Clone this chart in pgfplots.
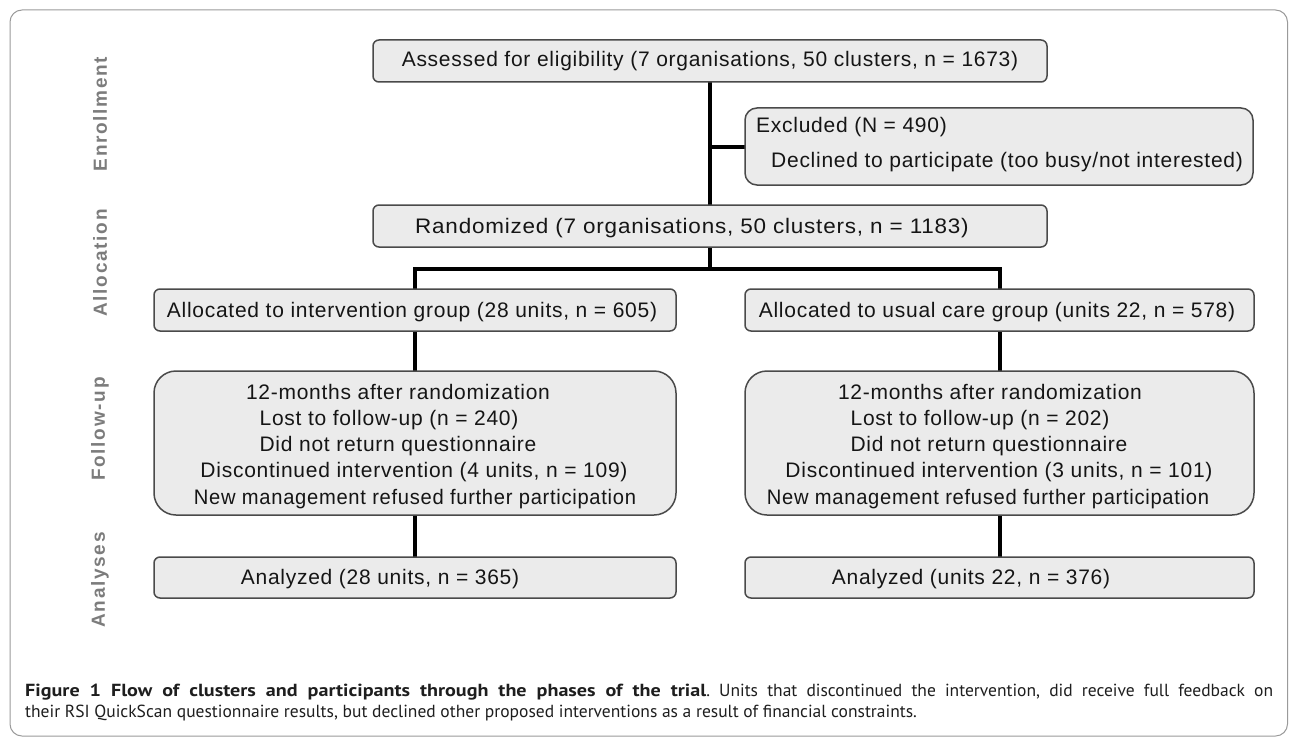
\documentclass[border=0pt]{standalone}
\usepackage{fontspec}
\setmainfont{Liberation Sans}
\newfontfamily\boxfont{Liberation Sans}[LetterSpace=3.5]
\newfontfamily\phasefont{Liberation Sans Bold}[LetterSpace=9]
\newfontfamily\capfont{PT Sans}
\newfontfamily\capbold{PT Sans Bold}[FakeStretch=1.15]
\usepackage{pgfplots}
\pgfplotsset{compat=1.18}
\frenchspacing
\definecolor{boxfill}{HTML}{EBEBEB}
\definecolor{boxdraw}{HTML}{4A4A4A}
\definecolor{phase}{HTML}{7C7C7C}
\definecolor{framec}{HTML}{9A9A9A}
\definecolor{txt}{HTML}{151515}
\definecolor{capt}{HTML}{1E1E1E}
\tikzset{
  bt/.style={anchor=base,inner sep=0pt,font=\boxfont\fontsize{21bp}{24bp}\selectfont,text=txt},
  ph/.style={rotate=90,inner sep=0pt,font=\phasefont\fontsize{19bp}{20bp}\selectfont,text=phase},
  cp/.style={anchor=base west,inner sep=0pt,font=\capfont\fontsize{17.5bp}{21bp}\selectfont\frenchspacing,text=capt},
}
\begin{document}
\begin{tikzpicture}
\begin{axis}[width=1289bp,height=737bp,scale only axis,
  xmin=0,xmax=1289,ymin=0,ymax=737,y dir=reverse,
  axis lines=none,ticks=none,clip=false]
\path (axis cs:0,0) rectangle (axis cs:1289,737);
% outer frame
\addplot[draw=framec,line width=1bp,rounded corners=12bp] coordinates {(600,10) (1287.5,10) (1287.5,736) (10,736) (10,10)} -- cycle;
% connectors
\addplot[black,line width=4.5bp] coordinates {(710,82) (710,205)};
\addplot[black,line width=4.5bp] coordinates {(710,147) (745,147)};
\addplot[black,line width=4.5bp] coordinates {(710,247) (710,269)};
\addplot[black,line width=4.5bp,line join=miter] coordinates {(415,289) (415,269) (1000,269) (1000,289)};
\addplot[black,line width=4bp] coordinates {(415,331) (415,371)};
\addplot[black,line width=4bp] coordinates {(1000,331) (1000,371)};
\addplot[black,line width=4bp] coordinates {(415,515) (415,557)};
\addplot[black,line width=4bp] coordinates {(1000,515) (1000,557)};
% boxes
\addplot[fill=boxfill,draw=boxdraw,line width=1.5bp,rounded corners=6bp] coordinates {(710,40) (1047,40) (1047,82) (373,82) (373,40)} -- cycle;
\addplot[fill=boxfill,draw=boxdraw,line width=1.5bp,rounded corners=12bp] coordinates {(1000,108) (1253,108) (1253,185) (745,185) (745,108)} -- cycle;
\addplot[fill=boxfill,draw=boxdraw,line width=1.5bp,rounded corners=6bp] coordinates {(710,205) (1047,205) (1047,247) (373,247) (373,205)} -- cycle;
\addplot[fill=boxfill,draw=boxdraw,line width=1.5bp,rounded corners=6bp] coordinates {(415,289) (676,289) (676,331) (154,331) (154,289)} -- cycle;
\addplot[fill=boxfill,draw=boxdraw,line width=1.5bp,rounded corners=6bp] coordinates {(1000,289) (1254,289) (1254,331) (745,331) (745,289)} -- cycle;
\addplot[fill=boxfill,draw=boxdraw,line width=1.5bp,rounded corners=22bp] coordinates {(415,371) (676,371) (676,515) (154,515) (154,371)} -- cycle;
\addplot[fill=boxfill,draw=boxdraw,line width=1.5bp,rounded corners=22bp] coordinates {(1000,371) (1254,371) (1254,515) (745,515) (745,371)} -- cycle;
\addplot[fill=boxfill,draw=boxdraw,line width=1.5bp,rounded corners=6bp] coordinates {(415,557) (676,557) (676,598) (154,598) (154,557)} -- cycle;
\addplot[fill=boxfill,draw=boxdraw,line width=1.5bp,rounded corners=6bp] coordinates {(1000,557) (1254,557) (1254,598) (745,598) (745,557)} -- cycle;
% box texts
\node[bt] at (axis cs:710,67) {Assessed for eligibility (7 organisations, 50 clusters, n = 1673)};
\node[bt,anchor=base west] at (axis cs:756,132) {Excluded (N = 490)};
\node[bt,anchor=base west] at (axis cs:771,167) {Declined to participate (too busy/not interested)};
\node[bt,xscale=1.07] at (axis cs:692,233) {Randomized (7 organisations, 50 clusters, n = 1183)};
\node[bt] at (axis cs:412,317) {Allocated to intervention group (28 units, n = 605)};
\node[bt] at (axis cs:997,317) {Allocated to usual care group (units 22, n = 578)};
\node[bt] at (axis cs:398,399) {12-months after randomization};
\node[bt] at (axis cs:389,425) {Lost to follow-up (n = 240)};
\node[bt] at (axis cs:398,451) {Did not return questionnaire};
\node[bt] at (axis cs:414,477) {Discontinued intervention (4 units, n = 109)};
\node[bt,xscale=0.96] at (axis cs:415,504) {New management refused further participation};
\node[bt] at (axis cs:990,399) {12-months after randomization};
\node[bt] at (axis cs:980,425) {Lost to follow-up (n = 202)};
\node[bt] at (axis cs:989,451) {Did not return questionnaire};
\node[bt] at (axis cs:999,477) {Discontinued intervention (3 units, n = 101)};
\node[bt,xscale=0.96] at (axis cs:988,504) {New management refused further participation};
\node[bt] at (axis cs:380,584) {Analyzed (28 units, n = 365)};
\node[bt] at (axis cs:971,584) {Analyzed (units 22, n = 376)};
% phase labels
\node[ph] at (axis cs:100,114) {Enrollment};
\node[ph] at (axis cs:100,263) {Allocation};
\node[ph] at (axis cs:100,429) {Follow-up};
\node[ph] at (axis cs:100,580) {Analyses};
% caption
\node[cp] at (axis cs:25,696) {\makebox[1248bp][s]{{\capbold Figure 1 Flow of clusters and participants through the phases of the trial}. Units that discontinued the intervention, did receive full feedback on}};
\node[cp] at (axis cs:25,717) {their RSI QuickScan questionnaire results, but declined other proposed interventions as a result of financial constraints.};
\end{axis}
\end{tikzpicture}
\end{document}
